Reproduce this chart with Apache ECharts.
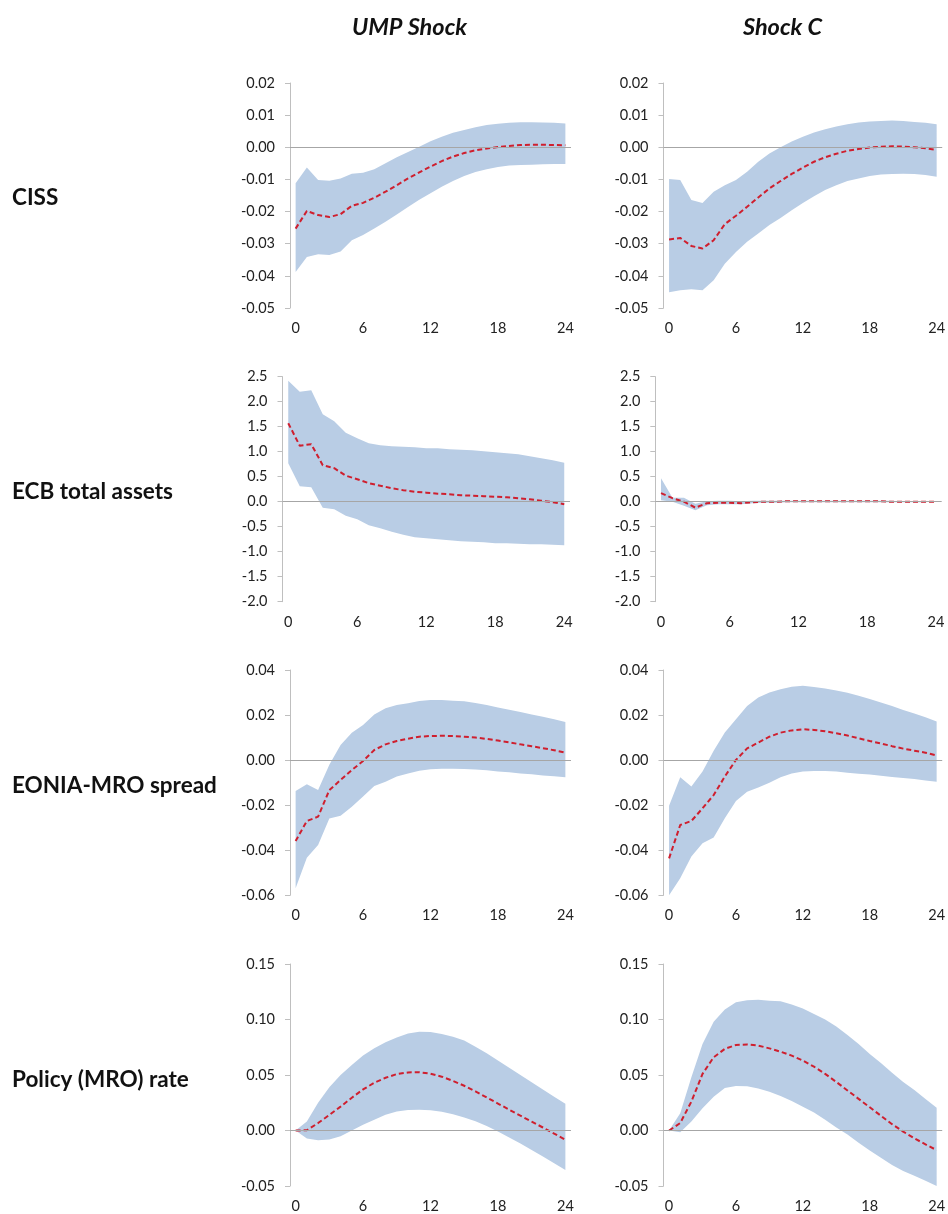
<!DOCTYPE html>
<html>
<head>
<meta charset="utf-8">
<script src="https://cdn.jsdelivr.net/npm/echarts@6/dist/echarts.min.js"></script>
<style>
html,body{margin:0;padding:0;background:#fff;}
#chart{width:948px;height:1214px;}
</style>
</head>
<body>
<div id="chart"></div>
<script>
// ---------- categories ----------
const months = ['0','1','2','3','4','5','6','7','8','9','10','11','12','13','14','15','16','17','18','19','20','21','22','23','24'];
const columnTitles = ['UMP Shock', 'Shock C'];
const rowTitles = ['CISS', 'ECB total assets', 'EONIA-MRO spread', 'Policy (MRO) rate'];

// ---------- y tick labels per row ----------
const cissTicks   = [-0.05, -0.04, -0.03, -0.02, -0.01, 0.00, 0.01, 0.02];
const ecbTicks    = [-2.0, -1.5, -1.0, -0.5, 0.0, 0.5, 1.0, 1.5, 2.0, 2.5];
const eoniaTicks  = [-0.06, -0.04, -0.02, 0.00, 0.02, 0.04];
const policyTicks = [-0.05, 0.00, 0.05, 0.10, 0.15];

// ---------- CISS ----------
const cissUmpMed = [-0.0253,-0.0198,-0.0211,-0.0217,-0.0208,-0.0182,-0.0173,-0.0157,-0.0138,-0.0118,-0.0097,-0.0078,-0.0060,-0.0043,-0.0029,-0.0018,-0.0009,-0.0004,0.0001,0.0004,0.0007,0.0008,0.0008,0.0007,0.0006];
const cissUmpHi  = [-0.0112,-0.0063,-0.0102,-0.0104,-0.0097,-0.0082,-0.0079,-0.0068,-0.0050,-0.0031,-0.0015,0.0002,0.0019,0.0033,0.0045,0.0054,0.0062,0.0069,0.0073,0.0076,0.0078,0.0078,0.0077,0.0076,0.0074];
const cissUmpLo  = [-0.0388,-0.0341,-0.0333,-0.0335,-0.0324,-0.0289,-0.0273,-0.0253,-0.0232,-0.0209,-0.0186,-0.0163,-0.0143,-0.0123,-0.0105,-0.0089,-0.0077,-0.0068,-0.0061,-0.0057,-0.0055,-0.0054,-0.0053,-0.0052,-0.0052];

const cissCMed = [-0.0287,-0.0282,-0.0307,-0.0315,-0.0289,-0.0239,-0.0213,-0.0185,-0.0156,-0.0128,-0.0105,-0.0083,-0.0063,-0.0045,-0.0031,-0.0020,-0.0011,-0.0005,-0.0001,0.0002,0.0003,0.0002,0.0000,-0.0003,-0.0008];
const cissCHi  = [-0.0099,-0.0102,-0.0164,-0.0173,-0.0138,-0.0118,-0.0102,-0.0076,-0.0045,-0.0019,0.0000,0.0018,0.0033,0.0046,0.0056,0.0065,0.0072,0.0077,0.0080,0.0082,0.0083,0.0082,0.0079,0.0076,0.0072];
const cissCLo  = [-0.0451,-0.0445,-0.0442,-0.0445,-0.0414,-0.0362,-0.0326,-0.0294,-0.0268,-0.0242,-0.0220,-0.0196,-0.0173,-0.0152,-0.0133,-0.0118,-0.0105,-0.0097,-0.0089,-0.0085,-0.0083,-0.0082,-0.0083,-0.0086,-0.0092];

// ---------- ECB total assets ----------
const ecbUmpMed = [1.57,1.12,1.15,0.73,0.67,0.52,0.45,0.37,0.32,0.27,0.23,0.20,0.18,0.16,0.15,0.13,0.12,0.11,0.10,0.09,0.07,0.05,0.02,-0.01,-0.05];
const ecbUmpHi  = [2.42,2.20,2.23,1.75,1.61,1.38,1.27,1.17,1.13,1.11,1.10,1.09,1.07,1.07,1.05,1.04,1.03,1.01,0.99,0.97,0.95,0.91,0.87,0.83,0.78];
const ecbUmpLo  = [0.77,0.31,0.29,-0.12,-0.15,-0.28,-0.35,-0.47,-0.53,-0.60,-0.66,-0.71,-0.73,-0.75,-0.77,-0.79,-0.80,-0.81,-0.83,-0.83,-0.84,-0.85,-0.85,-0.86,-0.87];

const ecbCMed = [0.17,0.07,0.00,-0.12,-0.03,-0.02,-0.02,-0.03,-0.01,0.00,0.00,0.01,0.01,0.01,0.01,0.01,0.01,0.01,0.01,0.01,0.00,0.00,0.00,0.00,0.00];
const ecbCHi  = [0.47,0.08,0.08,-0.04,0.01,0.02,0.02,0.01,0.02,0.02,0.02,0.02,0.02,0.02,0.02,0.02,0.02,0.02,0.02,0.02,0.02,0.01,0.01,0.01,0.01];
const ecbCLo  = [0.03,0.00,-0.08,-0.17,-0.07,-0.05,-0.05,-0.05,-0.03,-0.02,-0.02,-0.01,-0.01,-0.01,-0.01,-0.01,-0.01,-0.01,-0.01,-0.01,-0.01,-0.01,-0.01,-0.01,-0.01];

// ---------- EONIA-MRO spread ----------
const eoniaUmpMed = [-0.0359,-0.0270,-0.0251,-0.0133,-0.0088,-0.0044,-0.0004,0.0045,0.0070,0.0085,0.0095,0.0104,0.0107,0.0108,0.0107,0.0104,0.0100,0.0094,0.0087,0.0079,0.0070,0.0062,0.0053,0.0044,0.0033];
const eoniaUmpHi  = [-0.0137,-0.0107,-0.0133,-0.0021,0.0067,0.0122,0.0156,0.0203,0.0230,0.0245,0.0252,0.0262,0.0267,0.0267,0.0264,0.0261,0.0253,0.0245,0.0234,0.0224,0.0214,0.0203,0.0192,0.0181,0.0169];
const eoniaUmpLo  = [-0.0569,-0.0433,-0.0377,-0.0259,-0.0247,-0.0207,-0.0162,-0.0115,-0.0096,-0.0073,-0.0059,-0.0047,-0.0041,-0.0038,-0.0038,-0.0039,-0.0042,-0.0045,-0.0050,-0.0054,-0.0059,-0.0063,-0.0068,-0.0072,-0.0076];

const eoniaCMed = [-0.0436,-0.0288,-0.0270,-0.0214,-0.0155,-0.0073,0.0001,0.0052,0.0078,0.0104,0.0122,0.0132,0.0137,0.0134,0.0128,0.0119,0.0109,0.0097,0.0085,0.0074,0.0062,0.0051,0.0042,0.0033,0.0021];
const eoniaCHi  = [-0.0202,-0.0076,-0.0117,-0.0051,0.0042,0.0123,0.0181,0.0240,0.0278,0.0300,0.0315,0.0326,0.0330,0.0325,0.0318,0.0309,0.0299,0.0286,0.0271,0.0256,0.0240,0.0222,0.0207,0.0190,0.0171];
const eoniaCLo  = [-0.0600,-0.0524,-0.0428,-0.0369,-0.0344,-0.0258,-0.0181,-0.0140,-0.0122,-0.0100,-0.0076,-0.0059,-0.0051,-0.0048,-0.0048,-0.0051,-0.0056,-0.0060,-0.0064,-0.0069,-0.0075,-0.0079,-0.0084,-0.0090,-0.0096];

// ---------- Policy (MRO) rate ----------
const policyUmpMed = [0.0000,0.0002,0.0067,0.0140,0.0215,0.0295,0.0370,0.0430,0.0475,0.0508,0.0523,0.0525,0.0512,0.0485,0.0447,0.0403,0.0352,0.0298,0.0243,0.0188,0.0133,0.0080,0.0027,-0.0028,-0.0083];
const policyUmpHi  = [0.0000,0.0080,0.0250,0.0390,0.0500,0.0590,0.0675,0.0740,0.0794,0.0838,0.0874,0.0890,0.0888,0.0870,0.0845,0.0810,0.0755,0.0695,0.0630,0.0566,0.0500,0.0435,0.0370,0.0305,0.0240];
const policyUmpLo  = [0.0000,-0.0073,-0.0088,-0.0082,-0.0052,-0.0001,0.0052,0.0096,0.0141,0.0171,0.0185,0.0188,0.0182,0.0168,0.0146,0.0118,0.0083,0.0040,-0.0010,-0.0062,-0.0117,-0.0175,-0.0235,-0.0295,-0.0355];

const policyCMed = [0.0000,0.0067,0.0260,0.0510,0.0660,0.0735,0.0770,0.0775,0.0765,0.0740,0.0710,0.0675,0.0630,0.0575,0.0510,0.0437,0.0361,0.0285,0.0209,0.0133,0.0057,-0.0010,-0.0070,-0.0125,-0.0177];
const policyCHi  = [0.0000,0.0156,0.0480,0.0780,0.0980,0.1090,0.1156,0.1174,0.1177,0.1170,0.1165,0.1135,0.1100,0.1050,0.1000,0.0936,0.0860,0.0780,0.0690,0.0607,0.0520,0.0438,0.0364,0.0283,0.0206];
const policyCLo  = [0.0000,-0.0016,0.0082,0.0200,0.0304,0.0384,0.0402,0.0399,0.0378,0.0349,0.0310,0.0266,0.0215,0.0162,0.0096,0.0028,-0.0037,-0.0111,-0.0180,-0.0245,-0.0310,-0.0364,-0.0408,-0.0453,-0.0500];

// ---------- panel assembly ----------
const panels = [
  {med: cissUmpMed,   hi: cissUmpHi,   lo: cissUmpLo,   ticks: cissTicks,   dec: 2},
  {med: cissCMed,     hi: cissCHi,     lo: cissCLo,     ticks: cissTicks,   dec: 2},
  {med: ecbUmpMed,    hi: ecbUmpHi,    lo: ecbUmpLo,    ticks: ecbTicks,    dec: 1},
  {med: ecbCMed,      hi: ecbCHi,      lo: ecbCLo,      ticks: ecbTicks,    dec: 1},
  {med: eoniaUmpMed,  hi: eoniaUmpHi,  lo: eoniaUmpLo,  ticks: eoniaTicks,  dec: 2},
  {med: eoniaCMed,    hi: eoniaCHi,    lo: eoniaCLo,    ticks: eoniaTicks,  dec: 2},
  {med: policyUmpMed, hi: policyUmpHi, lo: policyUmpLo, ticks: policyTicks, dec: 2},
  {med: policyCMed,   hi: policyCHi,   lo: policyCLo,   ticks: policyTicks, dec: 2}
];

// layout (pixels): left, top, width, height
const layout = [
  [290, 83, 281, 225], [663.5, 83, 281.5, 225],
  [282.5, 376.7, 287.5, 225], [655.3, 376.7, 286.4, 225],
  [290, 670, 281, 225.3], [663.5, 670, 281.5, 225.3],
  [290, 964, 281, 224.7], [663.5, 964, 281.5, 224.7]
];

const FONT = 'Lato';
const grids = [], xAxes = [], yAxes = [], series = [];

panels.forEach((p, i) => {
  const L = layout[i];
  grids.push({left: L[0], top: L[1], width: L[2], height: L[3], containLabel: false});
  xAxes.push({
    type: 'category', gridIndex: i, data: months, boundaryGap: true,
    axisLine: {show: false}, axisTick: {show: false}, splitLine: {show: false},
    axisLabel: {interval: 5, margin: 13, color: '#222', fontFamily: FONT, fontSize: 14.5}
  });
  const t = p.ticks;
  yAxes.push({
    type: 'value', gridIndex: i, min: t[0], max: t[t.length - 1],
    interval: +(t[1] - t[0]).toFixed(4),
    axisLine: {show: true, lineStyle: {color: '#bfbfbf', width: 1}},
    axisTick: {show: true, length: 5, lineStyle: {color: '#bfbfbf', width: 1}},
    splitLine: {show: false},
    axisLabel: {margin: 15, color: '#222', fontFamily: FONT, fontSize: 14.5,
      formatter: v => v.toFixed(p.dec)}
  });
  const diff = p.hi.map((v, k) => v - p.lo[k]);
  series.push({
    type: 'line', xAxisIndex: i, yAxisIndex: i, data: p.lo, stack: 'band' + i,
    stackStrategy: 'all', symbol: 'none', silent: true, z: 1,
    lineStyle: {opacity: 0, width: 0}
  });
  series.push({
    type: 'line', xAxisIndex: i, yAxisIndex: i, data: diff, stack: 'band' + i,
    stackStrategy: 'all', symbol: 'none', silent: true, z: 2,
    lineStyle: {opacity: 0, width: 0},
    areaStyle: {color: '#b9cde5', opacity: 1},
    markLine: {
      silent: true, symbol: 'none', label: {show: false},
      lineStyle: {color: '#a6a6a6', width: 1, type: 'solid'},
      data: [{yAxis: 0}]
    }
  });
  series.push({
    type: 'line', xAxisIndex: i, yAxisIndex: i, data: p.med, symbol: 'none',
    silent: true, z: 3,
    lineStyle: {color: '#cf1f2e', width: 2, type: [5, 3]}
  });
});

// text labels
const graphics = [];
const colX = [409.5, 782.5];
columnTitles.forEach((txt, j) => graphics.push({
  type: 'text', x: colX[j], y: 27,
  style: {text: txt, fill: '#111', font: 'italic bold 23.5px ' + FONT, textAlign: 'center', textVerticalAlign: 'middle'}
}));
const rowY = [198, 492, 786, 1080];
rowTitles.forEach((txt, j) => graphics.push({
  type: 'text', x: 12, y: rowY[j],
  style: {text: txt, fill: '#111', font: 'bold 22.5px ' + FONT, textAlign: 'left', textVerticalAlign: 'middle'}
}));

const chart = echarts.init(document.getElementById('chart'), null, {renderer: 'canvas'});
chart.setOption({
  animation: false,
  backgroundColor: '#fff',
  grid: grids, xAxis: xAxes, yAxis: yAxes, series: series,
  graphic: graphics
});
</script>
</body>
</html>
